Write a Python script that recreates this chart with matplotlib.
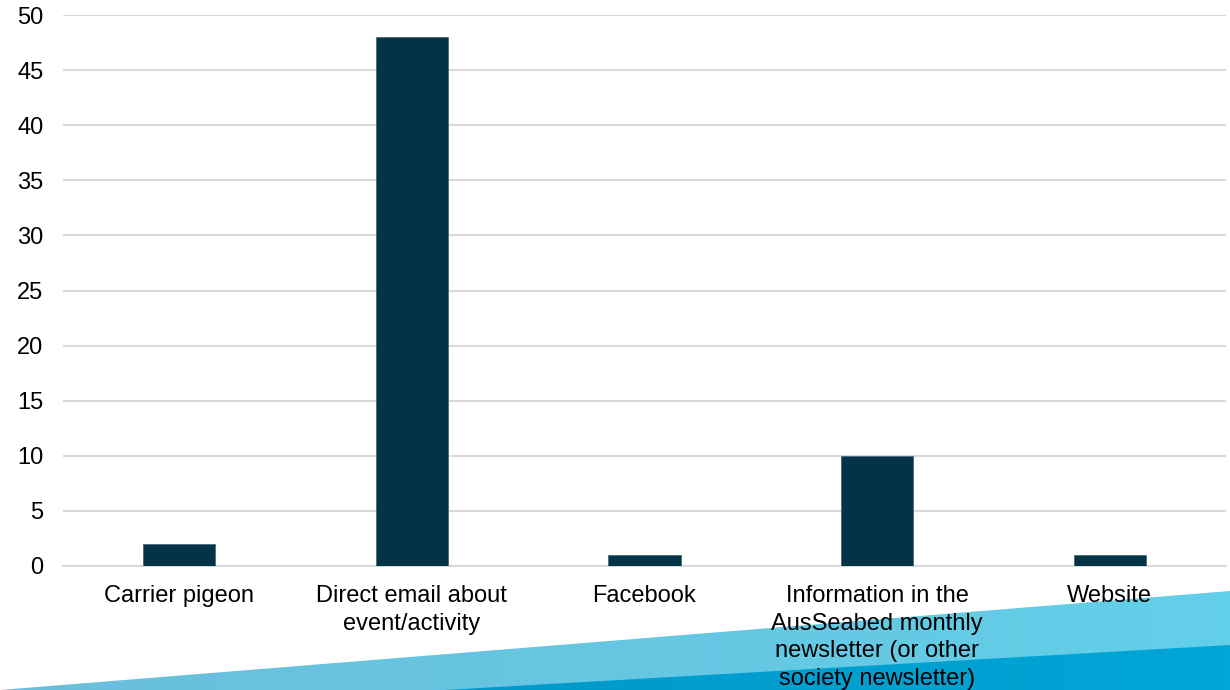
import matplotlib
matplotlib.use("Agg")
import matplotlib.pyplot as plt
import numpy as np
from matplotlib.patches import Polygon
from matplotlib.colors import LinearSegmentedColormap

categories = ["Carrier pigeon",
              "Direct email about\nevent/activity",
              "Facebook",
              "Information in the\nAusSeabed monthly\nnewsletter (or other\nsociety newsletter)",
              "Website"]
values = [2, 48, 1, 10, 1]
yticks = [0, 5, 10, 15, 20, 25, 30, 35, 40, 45, 50]

plt.rcParams['font.family'] = ['Liberation Sans', 'DejaVu Sans']

W, H = 1230, 690
fig = plt.figure(figsize=(W / 100, H / 100), dpi=100, facecolor='white')

# decorative background wedges
bg = fig.add_axes([0, 0, 1, 1], zorder=0)
bg.set_xlim(0, W)
bg.set_ylim(H, 0)
bg.axis('off')

grad = np.linspace(0, 1, 256).reshape(1, -1)
cm_light = LinearSegmentedColormap.from_list('l', ['#6ABEDC', '#62CFE8'])
cm_dark = LinearSegmentedColormap.from_list('d', ['#0090C3', '#00A6D6'])

light = Polygon([(0, 690), (1230, 591), (1230, 690)], closed=True,
                facecolor='none', edgecolor='none')
bg.add_patch(light)
im1 = bg.imshow(grad, cmap=cm_light, extent=[0, W, H, 0], aspect='auto', zorder=1)
im1.set_clip_path(light)

dark = Polygon([(445, 690), (1230, 645), (1230, 690)], closed=True,
               facecolor='none', edgecolor='none')
bg.add_patch(dark)
im2 = bg.imshow(grad, cmap=cm_dark, extent=[0, W, H, 0], aspect='auto', zorder=2)
im2.set_clip_path(dark)

# main chart
ax = fig.add_axes([63 / W, 1 - 566 / H, (1226 - 63) / W, (566 - 15) / H], zorder=1)
ax.set_facecolor('none')
x = np.arange(len(categories))
ax.bar(x, values, width=0.31, color='#033347', edgecolor='#4a6a7a', linewidth=0.6, zorder=3)

ax.set_xlim(-0.5, len(categories) - 0.5)
ax.set_ylim(0, 50)
ax.set_yticks(yticks)
ax.set_yticklabels([str(v) for v in yticks])
ax.set_xticks(x)
ax.set_xticklabels(categories, linespacing=1.32)
ax.tick_params(axis='both', length=0, labelsize=17, colors='black')
ax.tick_params(axis='y', pad=14)
ax.tick_params(axis='x', pad=14)
ax.yaxis.grid(True, color='#D9D9D9', linewidth=1.5, zorder=0)
ax.set_axisbelow(True)
for s in ['left', 'right', 'top']:
    ax.spines[s].set_visible(False)
ax.spines['bottom'].set_color('#D9D9D9')
ax.spines['bottom'].set_linewidth(1.5)

fig.savefig('out.png', dpi=100, facecolor='white')
